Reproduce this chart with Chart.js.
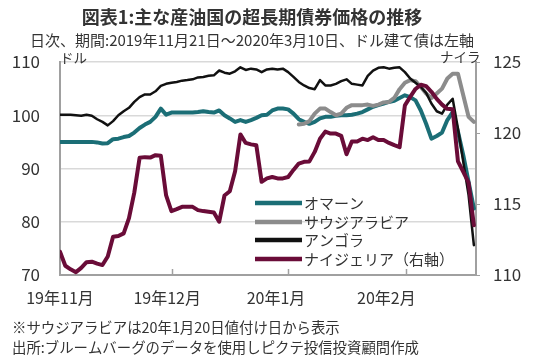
<!DOCTYPE html>
<html>
<head>
<meta charset="utf-8">
<script src="https://cdn.jsdelivr.net/npm/chart.js@4.4.1/dist/chart.umd.min.js"></script>
<style>
  html, body { margin: 0; padding: 0; background: #ffffff; }
  #wrap { position: relative; width: 550px; height: 363px; }
</style>
</head>
<body>
<div id="wrap"><canvas id="c" width="550" height="363"></canvas></div>
<script>
// ---- data (business-day index 0 = 2019-11-21 ... 78 = 2020-03-10) ----
const titleText = '図表1:主な産油国の超長期債券価格の推移';
const subtitleText = '日次、期間:2019年11月21日～2020年3月10日、ドル建て債は左軸';
const noteLines = ['※サウジアラビアは20年1月20日値付け日から表示', '出所:ブルームバーグのデータを使用しピクテ投信投資顧問作成'];
const leftUnit = 'ドル';
const rightUnit = 'ナイラ';

const seriesNames = ['オマーン', 'サウジアラビア', 'アンゴラ', 'ナイジェリア（右軸）'];

const monthLabels = ['19年11月', '19年12月', '20年1月', '20年2月'];
const monthLabelAt = [0, 20.2, 40.7, 61.5];
const monthTickAt = [21.1, 43.0, 65.2];

const leftTicks = [70, 80, 90, 100, 110];
const rightTicks = [110, 115, 120, 125];

const oman = [95.0,95.0,95.0,95.0,95.0,95.0,95.0,94.9,94.7,94.75,
  95.5,95.6,95.9,96.1,96.75,97.6,98.25,98.75,99.7,101.25,
  100.1,100.5,100.5,100.5,100.5,100.5,100.6,100.75,100.6,100.5,
  100.9,100.0,99.4,98.75,99.1,98.75,99.1,99.5,100.0,100.1,
  100.9,101.25,101.25,101.1,100.3,99.25,98.75,98.4,98.75,99.4,
  99.7,99.7,99.9,100.0,100.0,100.1,100.3,100.6,101.1,101.6,
  101.9,102.2,102.5,102.7,103.25,103.75,103.4,102.8,100.9,98.4,
  95.6,96.1,96.75,99.1,100.6,96.9,92.5,87.5,82.5];

const saudi = [null,null,null,null,null,null,null,null,null,null,
  null,null,null,null,null,null,null,null,null,null,
  null,null,null,null,null,null,null,null,null,null,
  null,null,null,null,null,null,null,null,null,null,
  null,null,null,null,null,98.25,98.4,98.9,100.3,101.25,
  101.25,100.6,100.0,100.3,101.4,101.9,101.9,101.9,102.0,101.75,
  102.0,102.4,102.5,103.25,104.9,106.1,106.6,106.4,105.3,104.1,
  103.25,104.1,105.0,106.9,107.8,107.8,103.75,99.7,98.75];

const angola = [100.1,100.1,100.1,100.0,99.9,100.1,99.9,99.25,98.75,98.1,
  98.9,100.0,100.75,101.4,102.5,103.4,103.9,103.9,104.5,105.5,
  105.9,106.1,106.25,106.5,106.6,106.75,107.1,107.2,107.4,107.5,
  108.4,108.0,107.8,108.25,109.0,108.5,108.75,108.6,108.1,108.6,
  108.75,108.6,108.75,108.1,107.2,106.25,105.6,105.1,104.9,106.6,
  105.6,105.6,105.9,106.4,106.75,105.9,105.75,105.6,107.4,108.4,
  108.9,109.0,108.75,108.9,109.0,108.1,106.9,106.1,105.3,104.2,
  102.2,100.75,100.3,102.0,103.1,97.5,91.25,85.0,75.6];

const nigeria = [111.64,110.65,110.4,110.2,110.5,110.9,110.94,110.8,110.7,111.3,
  112.7,112.74,112.93,114.0,115.8,118.25,118.3,118.27,118.44,118.4,
  115.6,114.5,114.64,114.8,114.8,114.8,114.57,114.5,114.45,114.4,
  113.75,115.6,115.9,117.3,119.9,119.3,119.2,119.14,116.56,116.8,
  116.9,116.8,116.8,116.9,117.4,117.85,117.97,118.0,118.67,119.6,
  120.1,119.96,119.96,119.8,118.5,119.4,119.4,119.6,119.5,119.7,
  119.5,119.5,119.3,119.14,119.0,121.95,122.54,123.1,123.4,123.3,
  122.9,122.4,122.0,121.7,121.67,118.0,117.27,116.5,113.5];

// ---- styling ----
const FONT = '"Noto Sans CJK JP", "Noto Sans", sans-serif';
const TXT = '#333333';
const colors = ['#1b6e76', '#8c8c8c', '#111111', '#6a0c38'];
const widths = [4, 4, 2.5, 4];

const toXY = arr => arr.map((v, i) => ({ x: i, y: v }));

const textPlugin = {
  id: 'texts',
  afterDraw(chart) {
    const ctx = chart.ctx;
    const xs = chart.scales.x;
    const area = chart.chartArea;
    ctx.save();
    // inward month tick marks
    ctx.strokeStyle = '#a0a0a0';
    ctx.lineWidth = 1.5;
    monthTickAt.forEach(v => {
      const px = Math.round(xs.getPixelForValue(v)) + 0.5;
      ctx.beginPath();
      ctx.moveTo(px, area.bottom);
      ctx.lineTo(px, area.bottom - 6);
      ctx.stroke();
    });
    // titles
    ctx.fillStyle = TXT;
    ctx.textBaseline = 'middle';
    ctx.textAlign = 'center';
    ctx.font = 'bold 18px ' + FONT;
    ctx.fillText(titleText, 252, 17);
    ctx.font = '15px ' + FONT;
    ctx.fillText(subtitleText, 252, 40);
    // units
    ctx.font = '13.5px ' + FONT;
    ctx.textAlign = 'left';
    ctx.fillText(leftUnit, 60, 58);
    ctx.fillText(rightUnit, 440, 57);
    // notes
    ctx.font = '14.4px ' + FONT;
    ctx.fillText(noteLines[0], 12, 328);
    ctx.fillText(noteLines[1], 12, 348);
    // legend
    const rowsY = [203, 222, 240, 259];
    ctx.font = '15px ' + FONT;
    chart.data.datasets.forEach((ds, i) => {
      const y = rowsY[i];
      ctx.strokeStyle = ds.borderColor;
      ctx.lineWidth = 4.5;
      ctx.beginPath();
      ctx.moveTo(255, y);
      ctx.lineTo(302, y);
      ctx.stroke();
      ctx.fillStyle = TXT;
      ctx.fillText(ds.label, 304, y);
    });
    ctx.restore();
  }
};

new Chart(document.getElementById('c'), {
  type: 'line',
  data: {
    datasets: [
      { label: seriesNames[0], data: toXY(oman), yAxisID: 'y', borderColor: colors[0], borderWidth: widths[0], order: 4 },
      { label: seriesNames[1], data: toXY(saudi), yAxisID: 'y', borderColor: colors[1], borderWidth: widths[1], order: 3 },
      { label: seriesNames[2], data: toXY(angola), yAxisID: 'y', borderColor: colors[2], borderWidth: widths[2], order: 2 },
      { label: seriesNames[3], data: toXY(nigeria), yAxisID: 'y2', borderColor: colors[3], borderWidth: widths[3], order: 1 }
    ]
  },
  options: {
    responsive: false,
    animation: false,
    devicePixelRatio: 1,
    layout: { padding: { top: 62, left: 0, right: 0, bottom: 0 } },
    elements: {
      point: { radius: 0, hoverRadius: 0 },
      line: { tension: 0, borderJoinStyle: 'round', borderCapStyle: 'round', fill: false }
    },
    plugins: {
      legend: { display: false },
      title: { display: false },
      tooltip: { enabled: false }
    },
    scales: {
      x: {
        type: 'linear',
        min: 0,
        max: 78.4,
        afterBuildTicks: s => { s.ticks = monthLabelAt.map(v => ({ value: v })); },
        afterFit: s => { s.height = 88; },
        ticks: {
          autoSkip: false,
          maxRotation: 0,
          minRotation: 0,
          padding: 13,
          color: TXT,
          font: { family: FONT, size: 16 },
          callback: (v, i) => monthLabels[i]
        },
        grid: { drawOnChartArea: false, drawTicks: false },
        border: { display: true, color: '#a0a0a0', width: 2 }
      },
      y: {
        position: 'left',
        min: 70,
        max: 110,
        afterBuildTicks: s => { s.ticks = leftTicks.map(v => ({ value: v })); },
        afterFit: s => { s.width = 60; },
        ticks: { padding: 20, color: TXT, font: { family: FONT, size: 17 } },
        grid: { color: '#d9d9d9', lineWidth: 1.5, drawTicks: false },
        border: { display: true, color: '#a0a0a0', width: 2 }
      },
      y2: {
        position: 'right',
        min: 110,
        max: 125,
        afterBuildTicks: s => { s.ticks = rightTicks.map(v => ({ value: v })); },
        afterFit: s => { s.width = 74; },
        ticks: { padding: 13, color: TXT, font: { family: FONT, size: 17 } },
        grid: { drawOnChartArea: false, drawTicks: true, tickLength: 4, color: '#a0a0a0' },
        border: { display: true, color: '#a0a0a0', width: 2 }
      }
    }
  },
  plugins: [textPlugin]
});
</script>
</body>
</html>
